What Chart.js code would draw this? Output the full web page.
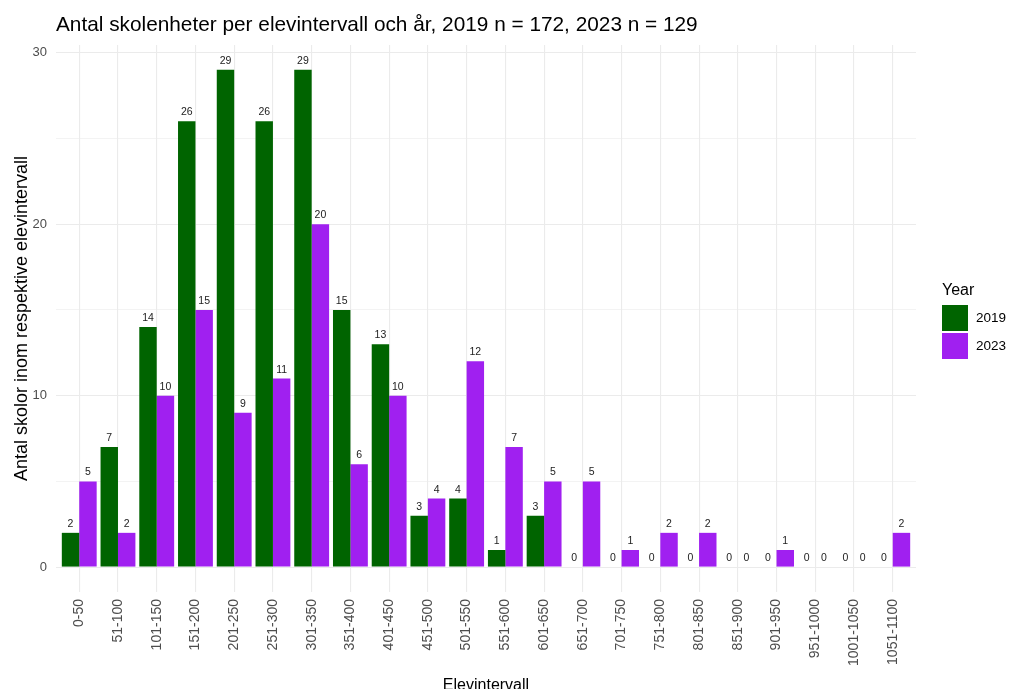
<!DOCTYPE html>
<html>
<head>
<meta charset="utf-8">
<script src="https://cdn.jsdelivr.net/npm/chart.js@4"></script>
<style>
html,body{margin:0;padding:0;background:#fff;}
canvas{display:block;}
</style>
</head>
<body>
<canvas id="c" width="1009" height="689"></canvas>
<script>
const categories = ['0-50','51-100','101-150','151-200','201-250','251-300','301-350','351-400','401-450','451-500','501-550','551-600','601-650','651-700','701-750','751-800','801-850','851-900','901-950','951-1000','1001-1050','1051-1100'];
const values2019 = [2,7,14,26,29,26,29,15,13,3,4,1,3,0,0,0,0,0,0,0,0,0];
const values2023 = [5,2,10,15,9,11,20,6,10,4,12,7,5,5,1,2,2,0,1,0,0,2];
const seriesNames = ['2019','2023'];
const yTicks = [0,5,10,15,20,25,30];
const titleText = 'Antal skolenheter per elevintervall och år, 2019 n = 172, 2023 n = 129';
const yTitle = 'Antal skolor inom respektive elevintervall';
const xTitle = 'Elevintervall';
const legendTitle = 'Year';
const colors = ['#006400', '#A020F0'];

Chart.defaults.font.family = "'Liberation Sans', Arial, sans-serif";

const extras = {
  id: 'extras',
  afterDatasetsDraw(chart) {
    const ctx = chart.ctx;
    const ys = chart.scales.y;
    ctx.save();
    ctx.font = "10.5px 'Liberation Sans', Arial, sans-serif";
    ctx.fillStyle = '#222';
    ctx.textAlign = 'center';
    ctx.textBaseline = 'alphabetic';
    chart.data.datasets.forEach((ds, d) => {
      const meta = chart.getDatasetMeta(d);
      meta.data.forEach((bar, i) => {
        const v = ds.data[i];
        ctx.fillText(String(v), bar.x, ys.getPixelForValue(v) - 6);
      });
    });
    ctx.restore();
  },
  afterDraw(chart) {
    const ctx = chart.ctx;
    const ca = chart.chartArea;
    ctx.save();
    // x axis title
    ctx.font = "16px 'Liberation Sans', Arial, sans-serif";
    ctx.fillStyle = '#000';
    ctx.textAlign = 'center';
    ctx.textBaseline = 'alphabetic';
    ctx.fillText(xTitle, (ca.left + ca.right) / 2, 690);
    // legend
    ctx.textAlign = 'left';
    ctx.font = "16px 'Liberation Sans', Arial, sans-serif";
    ctx.fillText(legendTitle, 942, 295);
    ctx.font = "13.5px 'Liberation Sans', Arial, sans-serif";
    ctx.textBaseline = 'middle';
    seriesNames.forEach((n, i) => {
      const y = 305 + i * 28;
      ctx.fillStyle = colors[i];
      ctx.fillRect(942, y, 26, 26);
      ctx.fillStyle = '#000';
      ctx.fillText(n, 976, y + 13);
    });
    ctx.restore();
  }
};

new Chart(document.getElementById('c'), {
  type: 'bar',
  data: {
    labels: categories.map((_, i) => i),
    datasets: [
      { label: seriesNames[0], data: values2019, backgroundColor: colors[0], categoryPercentage: 0.9, barPercentage: 1.0 },
      { label: seriesNames[1], data: values2023, backgroundColor: colors[1], categoryPercentage: 0.9, barPercentage: 1.0 }
    ]
  },
  options: {
    responsive: false,
    animation: false,
    layout: { padding: { left: 0, right: 93, top: 0, bottom: 0 } },
    plugins: {
      legend: { display: false },
      tooltip: { enabled: false },
      title: {
        display: true,
        text: titleText,
        align: 'start',
        fullSize: false,
        color: '#000',
        font: { size: 20.8, weight: 'normal' },
        padding: { top: 12.5, bottom: 7.5 }
      }
    },
    scales: {
      x: {
        type: 'linear',
        min: -0.6,
        max: 21.6,
        offset: false,
        afterBuildTicks: s => { s.ticks = categories.map((_, i) => ({ value: i })); },
        afterFit: s => { s.height = 97; },
        ticks: {
          autoSkip: false,
          minRotation: 90,
          maxRotation: 90,
          padding: 7,
          color: '#4D4D4D',
          font: { size: 14 },
          callback: v => categories[v]
        },
        grid: { color: '#EBEBEB', lineWidth: 1.1, drawTicks: false, offset: false },
        border: { display: false }
      },
      y: {
        min: -1.45,
        max: 30.45,
        afterBuildTicks: s => { s.ticks = yTicks.map(v => ({ value: v })); },
        afterFit: s => { s.width = 56; },
        ticks: {
          color: '#4D4D4D',
          font: { size: 13 },
          padding: 9,
          callback: v => (v % 10 === 0 ? String(v) : '')
        },
        grid: {
          color: '#EBEBEB',
          lineWidth: c => (c.tick && c.tick.value % 10 === 0 ? 1.1 : 0.6),
          drawTicks: false
        },
        border: { display: false },
        title: {
          display: true,
          text: yTitle,
          color: '#000',
          font: { size: 18 },
          padding: { top: 11, bottom: 0 }
        }
      }
    }
  },
  plugins: [extras]
});
</script>
</body>
</html>
